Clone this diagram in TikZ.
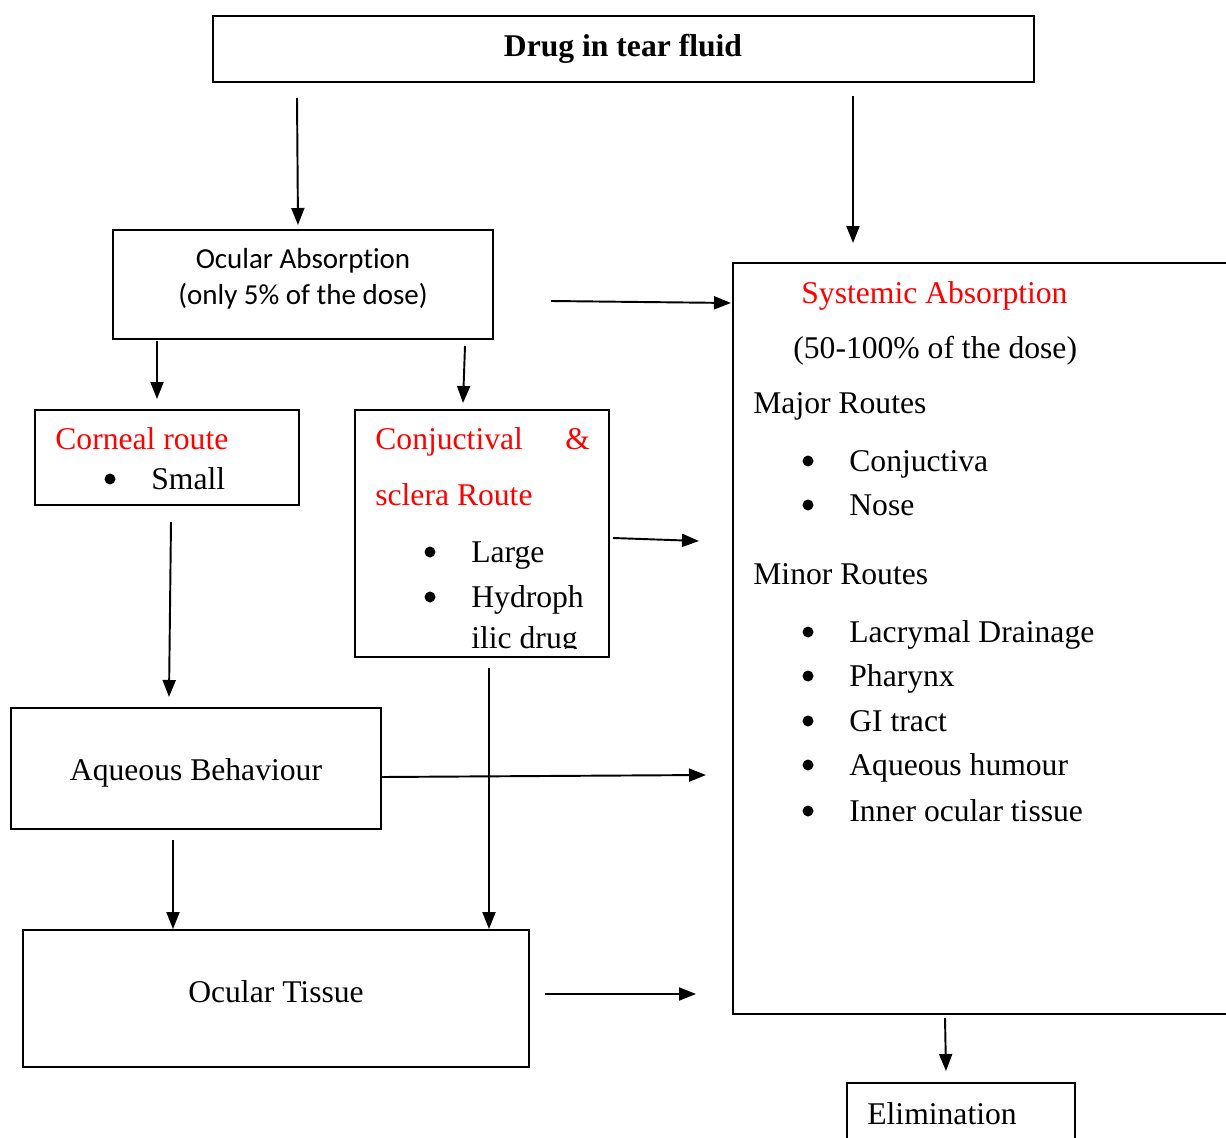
\documentclass[tikz,border=0pt]{standalone}
\usepackage{fontspec}
\setmainfont{Liberation Serif}
\newfontfamily\calibri[Ligatures=NoCommon]{Carlito}
\usetikzlibrary{arrows.meta,fit}
\tikzset{
  box/.style={draw, line width=1.1pt, inner sep=0pt},
  arr/.style={line width=1.1pt, -{Triangle[length=0.34cm,width=0.26cm]}},
  txt/.style={inner sep=0pt, text height=0.66em, text depth=0.2em, yshift=-0.13cm,
    font=\fontsize{18}{20}\selectfont},
  redtxt/.style={txt, text=red},
  bul/.style={circle, fill, inner sep=0pt, minimum size=0.22cm},
}
\begin{document}
\begin{tikzpicture}[x=0.02cm,y=-0.02cm]
\useasboundingbox (0,0) rectangle (1226,1138);
\clip (0,0) rectangle (1226,1138);
% boxes
\node[box, fit={(213,16) (1034,82)}] (drug) {};
\node[box, fit={(113,230) (493,339)}] (ocabs) {};
\node[box, fit={(35,410) (299,505)}] (corneal) {};
\node[box, fit={(355,410) (609,657)}] (conj) {};
\node[box, fit={(733,263) (1240,1014)}] (sysabs) {};
\node[box, fit={(11,708) (381,829)}] (aqbeh) {};
\node[box, fit={(23,930) (529,1067)}] (octis) {};
\node[box, fit={(847,1083) (1075,1160)}] (elim) {};
% texts
\node[txt, font=\fontsize{18}{20}\selectfont\bfseries] (drugtxt) at (623,46) {Drug in tear fluid};
\node[inner sep=0pt, font=\fontsize{16.5}{18}\calibri] (ocabsa) at (303,261) {Ocular Absorpt\kern0pt ion};
\node[inner sep=0pt, font=\fontsize{16.5}{18}\calibri] (ocabsb) at (303,296) {(only 5\% of the dose)};
\node[redtxt, anchor=west] (cortitle) at (55,439) {Corneal route};
\node[bul] (corbul) at (110,479) {};
\node[txt, anchor=west] (corsmall) at (151,479) {Small};
\node[redtxt, anchor=west] (conjtitle) at (375,439) {Conjuctival};
\node[redtxt, anchor=west] (conjamp) at (565,439) {\&};
\node[redtxt, anchor=west] (conjsclera) at (375,495) {sclera Route};
\node[bul] (conjbula) at (430,552) {};
\node[txt, anchor=west] (conjlarge) at (471,552) {Large};
\node[bul] (conjbulb) at (430,597) {};
\node[txt, anchor=west] (conjhyd) at (471,597) {Hydroph};
\begin{scope}
  \clip (355,410) rectangle (609,648);
  \node[txt, anchor=west] (conjilic) at (471,638) {ilic drug};
\end{scope}
\node[redtxt, anchor=west] (systitle) at (801,293) {Systemic Absorption};
\node[txt, anchor=west] (sysdose) at (793,348) {(50-100\% of the dose)};
\node[txt, anchor=west] (major) at (753,403) {Major Routes};
\node[txt, anchor=west] (minor) at (753,574) {Minor Routes};
\foreach \y/\t [count=\i] in {461/Conjuctiva, 505/Nose, 632/Lacrymal Drainage, 676/Pharynx,
    721/GI tract, 765/Aqueous humour, 811/Inner ocular tissue}{
  \node[bul] (sysbul\i) at (808,\y) {};
  \node[txt, anchor=west] (sysroute\i) at (849,\y) {\t};
}
\node[txt] (aqtxt) at (196,770) {Aqueous Behaviour};
\node[txt] (octxt) at (276,992) {Ocular Tissue};
\node[txt, anchor=west] (elimtxt) at (867,1114) {Elimination};
% arrow ends
\coordinate (drugL) at (297,98);   \coordinate (ocabsT) at (298,225);
\coordinate (drugR) at (853,96);   \coordinate (sysT) at (853,243);
\coordinate (ocabsR) at (551,301); \coordinate (sysL) at (731,303);
\coordinate (ocabsBL) at (157,341); \coordinate (corT) at (157,399);
\coordinate (ocabsBR) at (465,346); \coordinate (conjT) at (463,403);
\coordinate (corB) at (171,522);   \coordinate (aqT) at (169,697);
\coordinate (conjR) at (613,538);  \coordinate (sysLa) at (699,541);
\coordinate (conjB) at (489,668);  \coordinate (octR) at (489,929);
\coordinate (aqR) at (382,777);    \coordinate (sysLb) at (706,775);
\coordinate (aqB) at (173,840);    \coordinate (octL) at (173,929);
\coordinate (octE) at (545,994);   \coordinate (sysLc) at (696,994);
\coordinate (sysB) at (945,1018);  \coordinate (elimT) at (946,1071);
% arrows
\draw[arr] (drugL) -- (ocabsT);
\draw[arr] (drugR) -- (sysT);
\draw[arr] (ocabsR) -- (sysL);
\draw[arr] (ocabsBL) -- (corT);
\draw[arr] (ocabsBR) -- (conjT);
\draw[arr] (corB) -- (aqT);
\draw[arr] (conjR) -- (sysLa);
\draw[arr] (conjB) -- (octR);
\draw[arr] (aqR) -- (sysLb);
\draw[arr] (aqB) -- (octL);
\draw[arr] (octE) -- (sysLc);
\draw[arr] (sysB) -- (elimT);
\end{tikzpicture}
\end{document}
